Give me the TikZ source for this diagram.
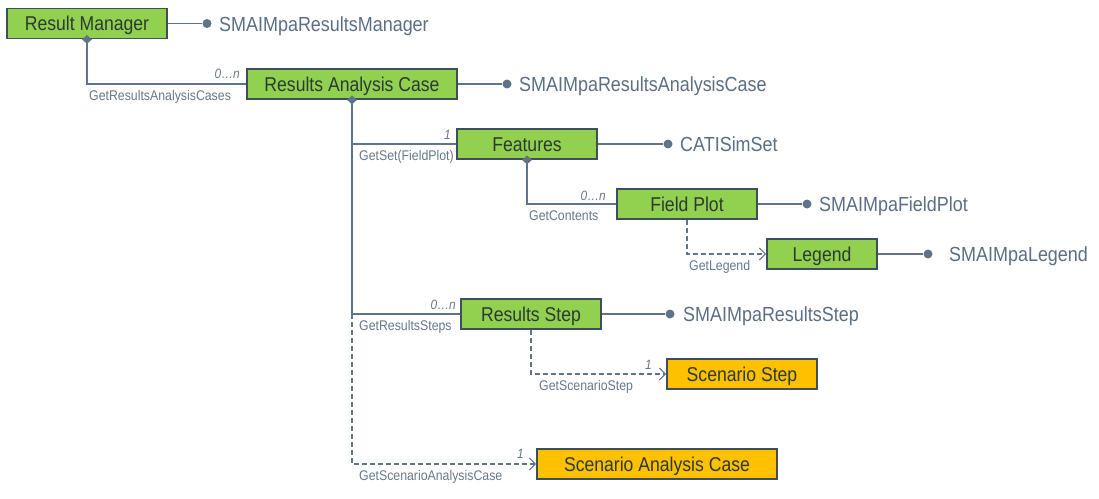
\documentclass[tikz,border=0pt]{standalone}
\usepackage{fontspec}
\setmainfont{Liberation Sans}
\newfontfamily\boxfont[FakeStretch=0.88]{Liberation Sans}
\newfontfamily\smallfont[FakeStretch=0.88]{Liberation Sans}
\usetikzlibrary{shapes.geometric,arrows.meta}
\definecolor{boxgreen}{HTML}{92D050}
\definecolor{boxorange}{HTML}{FFC000}
\definecolor{boxborder}{HTML}{3E4E5C}
\definecolor{boxtext}{HTML}{2B3A33}
\definecolor{linecol}{HTML}{5F7489}
\definecolor{ifacetext}{HTML}{5A6E84}
\definecolor{labtext}{HTML}{66788A}
\tikzset{
  cls/.style={draw=boxborder, line width=1.8pt, fill=boxgreen, minimum height=30pt,
    inner sep=0pt, text=boxtext, text height=14.3pt, text depth=0pt,
    font=\boxfont\fontsize{20}{22}\selectfont},
  clsor/.style={cls, fill=boxorange},
  conn/.style={draw=linecol, line width=1.2pt},
  dconn/.style={draw=linecol, line width=1.1pt, dash pattern=on 5pt off 3pt,
    -{Straight Barb[length=6pt,width=12pt,line width=1.1pt]}},
  dot/.style={circle, fill=linecol, inner sep=0pt, minimum size=9pt},
  dia/.style={diamond, fill=linecol, inner sep=0pt, minimum width=10pt, minimum height=9pt},
  iface/.style={anchor=west, inner sep=0pt, text=ifacetext, text height=14.6pt, text depth=0pt,
    font=\boxfont\fontsize{20.4}{22}\selectfont},
  lab/.style={inner sep=0pt, text=labtext, text height=10pt, text depth=0pt,
    font=\smallfont\fontsize{14}{15}\selectfont},
  mult/.style={inner sep=0pt, text=labtext, text height=10pt, text depth=0pt,
    font=\smallfont\itshape\fontsize{13.5}{15}\selectfont},
}
\begin{document}
\begin{tikzpicture}[x=1pt,y=-1pt]
\useasboundingbox (0,0) rectangle (1099,498);

% classes
\node[cls, minimum width=160pt] (rm) at (87,23.5) {Result Manager};
\node[cls, minimum width=210pt] (rac) at (352,84) {Results Analysis Case};
\node[cls, minimum width=140pt] (feat) at (527,144) {Features};
\node[cls, minimum width=140pt] (fp) at (687,204) {Field Plot};
\node[cls, minimum width=110pt] (leg) at (822,254) {Legend};
\node[cls, minimum width=140pt] (rs) at (531,314) {Results Step};
\node[clsor, minimum width=150pt] (ss) at (742,374) {Scenario Step};
\node[clsor, minimum width=240pt] (sac) at (657,464) {Scenario Analysis Case};

% interfaces
\node[dot] (d1) at (207,23.5) {};
\node[iface] (i1) at (219,24) {SMAIMpaResultsManager};
\draw[conn] (rm.east) -- (d1);
\node[dot] (d2) at (507,84) {};
\node[iface] (i2) at (519,84.5) {SMAIMpaResultsAnalysisCase};
\draw[conn] (rac.east) -- (d2);
\node[dot] (d3) at (668,144) {};
\node[iface] (i3) at (680,144.5) {CATISimSet};
\draw[conn] (feat.east) -- (d3);
\node[dot] (d4) at (807,204) {};
\node[iface] (i4) at (819,204.5) {SMAIMpaFieldPlot};
\draw[conn] (fp.east) -- (d4);
\node[dot] (d5) at (928,254) {};
\node[iface] (i5) at (949,254.5) {SMAIMpaLegend};
\draw[conn] (leg.east) -- (d5);
\node[dot] (d6) at (670,314) {};
\node[iface] (i6) at (683,314.5) {SMAIMpaResultsStep};
\draw[conn] (rs.east) -- (d6);

% connectors
\draw[conn] (rm.south) |- (rac.west);
\draw[conn] (rac.south) |- (feat.west);
\draw[conn] (rac.south) |- (rs.west);
\draw[conn] (feat.south) |- (fp.west);
\draw[dconn] (fp.south) |- (leg.west);
\draw[dconn] (rs.south) |- (ss.west);
\coordinate (vstart) at (rac.south |- rs.west);
\draw[dconn] (vstart) |- (sac.west);

% diamonds
\node[dia] (dm1) at (rm.south) {};
\node[dia] (dm2) at (rac.south) {};
\node[dia] (dm3) at (feat.south) {};

% labels
\node[mult, anchor=east] (m1) at (240,73) {0…n};
\node[lab, anchor=west] (l1) at (89,95) {GetResultsAnalysisCases};
\node[mult, anchor=east] (m2) at (451,134) {1};
\node[lab, anchor=west] (l2) at (359,155) {GetSet(FieldPlot)};
\node[mult, anchor=east] (m3) at (606,195) {0…n};
\node[lab, anchor=west] (l3) at (529,215) {GetContents};
\node[lab, anchor=west] (l4) at (689,265) {GetLegend};
\node[mult, anchor=east] (m4) at (456,304) {0…n};
\node[lab, anchor=west] (l5) at (359,325) {GetResultsSteps};
\node[mult, anchor=east] (m5) at (652,364) {1};
\node[lab, anchor=west] (l6) at (539,385) {GetScenarioStep};
\node[mult, anchor=east] (m6) at (524,453) {1};
\node[lab, anchor=west] (l7) at (359,475) {GetScenarioAnalysisCase};
\end{tikzpicture}
\end{document}
